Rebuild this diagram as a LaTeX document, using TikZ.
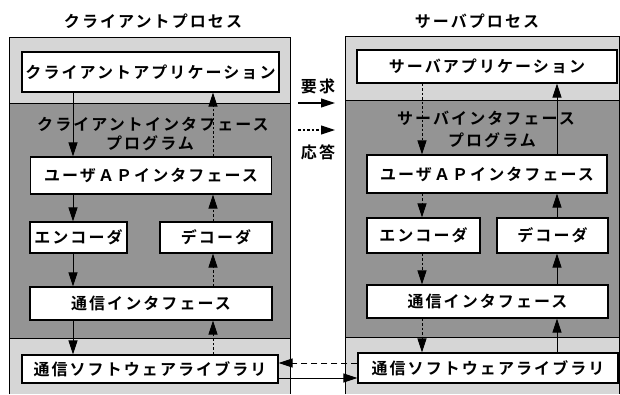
\documentclass[tikz,border=0pt]{standalone}
\usepackage{fontspec}
\newfontfamily\jp[LetterSpace=13]{Noto Sans CJK JP Bold}
\usetikzlibrary{arrows.meta}
\definecolor{lightbg}{gray}{0.84}
\definecolor{darkbg}{gray}{0.58}
\tikzset{
  box/.style={draw=black, line width=1.1pt, fill=white, inner sep=0pt, font=\jp\fontsize{16}{18}\selectfont},
  lbl/.style={inner sep=0pt, font=\jp\fontsize{16}{18}\selectfont},
  tip/.style={-{Triangle[length=14pt,width=9pt]}},
  req/.style={tip, line width=0.9pt},
  resp/.style={tip, line width=0.9pt, dash pattern=on 2.5pt off 2pt},
  frame/.style={draw=black, line width=1pt}
}
\begin{document}
\begin{tikzpicture}[x=1pt,y=-1pt]
\useasboundingbox (0,0) rectangle (620,394);
% client frame regions
\fill[lightbg] (9,37) rectangle (290,103);
\fill[darkbg] (9,103) rectangle (290,338);
\fill[lightbg] (9,338) rectangle (290,394);
\draw[frame] (9,394) -- (9,37) -- (290,37) -- (290,394);
\draw[frame] (9,103) -- (290,103);
\draw[frame] (9,338) -- (290,338);
% server frame regions
\fill[lightbg] (345,36) rectangle (619,100);
\fill[darkbg] (345,100) rectangle (619,337);
\fill[lightbg] (345,337) rectangle (619,394);
\draw[frame] (345,394) -- (345,36) -- (619,36) -- (619,394);
\draw[frame] (345,100) -- (619,100);
\draw[frame] (345,337) -- (619,337);

% titles
\node[lbl] (ctitle) at (153,21) {クライアントプロセス};
\node[lbl] (stitle) at (477,21) {サーバプロセス};

% client nodes
\node[box, minimum width=257pt, minimum height=40pt] (capp) at (150.5,72) {クライアントアプリケーション};
\node[lbl] (clab1) at (153,124) {クライアントインタフェース};
\node[lbl] (clab2) at (150,143) {プログラム};
\node[box, minimum width=241pt, minimum height=37pt] (cuap) at (151,175.5) {ユーザＡＰインタフェース};
\node[box, minimum width=97pt, minimum height=31pt] (cenc) at (78.5,237.5) {エンコーダ};
\node[box, minimum width=112pt, minimum height=31pt] (cdec) at (216,237.5) {デコーダ};
\node[box, minimum width=242pt, minimum height=33pt] (ccom) at (151,303.5) {通信インタフェース};
\node[box, minimum width=256pt, minimum height=28pt] (clib) at (150,369) {通信ソフトウェアライブラリ};

% server nodes
\node[box, minimum width=260pt, minimum height=33pt] (sapp) at (487,66.5) {サーバアプリケーション};
\node[lbl] (slab1) at (486,118) {サーバインタフェース};
\node[lbl] (slab2) at (492,140) {プログラム};
\node[box, minimum width=240pt, minimum height=38pt] (suap) at (487,174) {ユーザＡＰインタフェース};
\node[box, minimum width=113pt, minimum height=35pt] (senc) at (423.5,235.5) {エンコーダ};
\node[box, minimum width=111pt, minimum height=35pt] (sdec) at (552.5,235.5) {デコーダ};
\node[box, minimum width=241pt, minimum height=33pt] (scom) at (487.5,301.5) {通信インタフェース};
\node[box, minimum width=260pt, minimum height=30pt] (slib) at (488,368) {通信ソフトウェアライブラリ};

% arrow columns
\coordinate (cd) at (73,0);
\coordinate (cu) at (213,0);
\coordinate (sd) at (422,0);
\coordinate (su) at (557,0);

% client downward (request)
\draw[req] (capp.south -| cd) -- (cuap.north -| cd);
\draw[req] (cuap.south -| cd) -- (cenc.north -| cd);
\draw[req] (cenc.south -| cd) -- (ccom.north -| cd);
\draw[req] (ccom.south -| cd) -- (clib.north -| cd);
% client upward (response)
\draw[resp] (clib.north -| cu) -- (ccom.south -| cu);
\draw[resp] (ccom.north -| cu) -- (cdec.south -| cu);
\draw[resp] (cdec.north -| cu) -- (cuap.south -| cu);
\draw[resp] (cuap.north -| cu) -- (capp.south -| cu);

% server downward (request, dashed)
\draw[resp] (sapp.south -| sd) -- (suap.north -| sd);
\draw[resp] (suap.south -| sd) -- (senc.north -| sd);
\draw[resp] (senc.south -| sd) -- (scom.north -| sd);
\draw[resp] (scom.south -| sd) -- (slib.north -| sd);
% server upward (solid)
\draw[req] (slib.north -| su) -- (scom.south -| su);
\draw[req] (scom.north -| su) -- (sdec.south -| su);
\draw[req] (sdec.north -| su) -- (suap.south -| su);
\draw[req] (suap.north -| su) -- (sapp.south -| su);

% between libraries
\coordinate (ya) at (0,363);
\coordinate (yb) at (0,378);
\draw[tip, line width=1pt, dash pattern=on 6pt off 4pt] (slib.west |- ya) -- (clib.east |- ya);
\draw[req, line width=1pt] (clib.east |- yb) -- (slib.west |- yb);

% legend
\node[lbl] (lreq) at (318,86) {要求};
\coordinate (l1a) at (298,103);
\coordinate (l1b) at (335,103);
\draw[req, line width=1.1pt] (l1a) -- (l1b);
\coordinate (l2a) at (298,130);
\coordinate (l2b) at (335,130);
\draw[resp, line width=1.1pt] (l2a) -- (l2b);
\node[lbl] (lresp) at (318,152) {応答};
\end{tikzpicture}
\end{document}
